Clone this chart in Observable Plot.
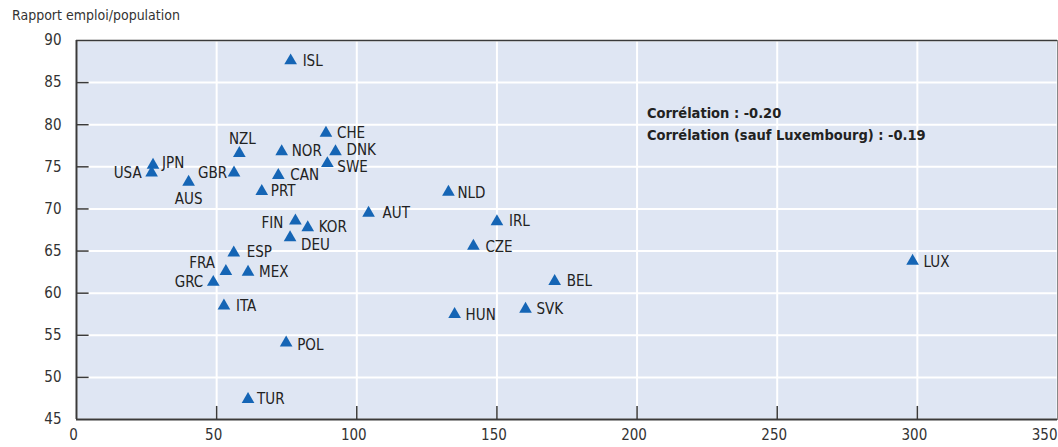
<!DOCTYPE html>
<html><head><meta charset="utf-8">
<script src="https://cdn.jsdelivr.net/npm/d3@7"></script>
<script src="https://cdn.jsdelivr.net/npm/@observablehq/plot@0.6"></script>
<style>
body{margin:0;background:#fff;font-family:"DejaVu Sans Condensed","DejaVu Sans",sans-serif;font-stretch:condensed;}
#title{height:30px;line-height:30px;font-size:14px;color:#333;padding-left:12px;white-space:nowrap;}
</style></head><body>
<div id="title">Rapport emploi/population</div>
<div id="chart"></div>
<script>
const countries = ["ISL","CHE","NZL","NOR","DNK","SWE","JPN","USA","GBR","AUS","CAN","PRT","AUT","FIN","KOR","DEU","ESP","FRA","MEX","GRC","ITA","POL","TUR","NLD","IRL","CZE","BEL","SVK","HUN","LUX"];
const xValues = [76.4,89.0,58.1,73.2,92.4,89.5,27.3,26.8,56.2,40.0,72.0,66.1,104.2,78.1,82.5,76.2,56.1,53.3,61.2,48.8,52.6,74.8,61.2,132.7,150.0,141.6,170.6,160.2,134.9,298.3];
const yValues = [87.6,79.0,76.6,76.8,76.8,75.4,75.2,74.3,74.3,73.2,74.0,72.1,69.5,68.6,67.8,66.6,64.8,62.6,62.5,61.3,58.5,54.1,47.4,72.0,68.5,65.6,61.4,58.1,57.5,63.8];
const xTicks = [0,50,100,150,200,250,300,350];
const yTicks = [45,50,55,60,65,70,75,80,85,90];
const annotationLines = ["Corrélation : -0.20","Corrélation (sauf Luxembourg) : -0.19"];
const annotationAt = {x: 203.5, y: [81.4, 78.7]};

// label placement (layout only)
const placement = {
  NZL:{dx:3,dy:-14,anchor:"middle"}, SWE:{dx:10,dy:4}, JPN:{dx:9,dy:-2}, DNK:{dx:11,dy:-1},
  USA:{dx:-10,dy:0,anchor:"end"}, GBR:{dx:-7,dy:0,anchor:"end"}, AUS:{dx:0,dy:17,anchor:"middle"},
  CAN:{dx:12}, PRT:{dx:9}, AUT:{dx:14}, FIN:{dx:-12,dy:2,anchor:"end"}, DEU:{dx:11,dy:8},
  ESP:{dx:13,dy:-1}, FRA:{dx:-11,dy:-8,anchor:"end"}, GRC:{dx:-10,anchor:"end"}, ITA:{dx:12},
  POL:{dx:11,dy:2}, TUR:{dx:9}, NLD:{dx:9,dy:1}, IRL:{dx:12}, CZE:{dx:12,dy:1}, BEL:{dx:12},
  HUN:{dx:11,dy:1}, LUX:{dx:11,dy:1}, ISL:{dx:12}, NOR:{dx:10}
};
const rows = countries.map((c,i)=>({c, x:xValues[i], y:yValues[i]}));
const groups = {};
for (const r of rows) {
  const p = Object.assign({dx:11,dy:0,anchor:"start"}, placement[r.c]||{});
  const key = `${p.dx}|${p.dy}|${p.anchor}`;
  (groups[key] = groups[key] || {p, data:[]}).data.push(r);
}
const labelMarks = Object.values(groups).map(g => Plot.text(g.data, {
  x:"x", y:"y", text:"c", dx:g.p.dx, dy:g.p.dy, textAnchor:g.p.anchor,
  fill:"#222", fontSize:15
}));

const frameColor = "#3a3a3a";
const plot = Plot.plot({
  width: 1058, height: 417,
  marginLeft: 76, marginRight: 1, marginTop: 10, marginBottom: 28,
  style: {fontFamily:'"DejaVu Sans Condensed","DejaVu Sans",sans-serif', fontSize:"15px", color:"#333", background:"#fff"},
  x: {domain:[0,350], label:null},
  y: {domain:[45,90], label:null},
  marks: [
    Plot.frame({fill:"#dfe6f3", stroke:null}),
    Plot.ruleX(xTicks, {stroke:"#fff", strokeWidth:2}),
    Plot.ruleY(yTicks, {stroke:"#fff", strokeWidth:2}),
    Plot.frame({stroke:"#888", strokeWidth:1}),
    Plot.ruleX(xTicks.filter(t=>t>0 && t<350), {x:d=>d, y1:45, y2:46.55, stroke:frameColor, strokeWidth:1.5}),
    Plot.ruleY(yTicks.filter(t=>t>45 && t<90), {y:d=>d, x1:0, x2:4.5, stroke:frameColor, strokeWidth:1.5}),
    Plot.ruleX([0], {stroke:frameColor, strokeWidth:2}),
    Plot.ruleY([45], {stroke:frameColor, strokeWidth:2}),
    Plot.ruleY([90], {stroke:frameColor, strokeWidth:1.5}),
    Plot.axisX(xTicks.filter(t=>t<350), {tickSize:0, tickPadding:10, dx:-3, fontSize:15, fill:"#333", label:null}),
    Plot.axisX(xTicks.filter(t=>t===350), {tickSize:0, tickPadding:10, textAnchor:"end", fontSize:15, fill:"#333", label:null}),
    Plot.axisY(yTicks, {tickSize:0, tickPadding:15, fontSize:15, fill:"#333", label:null}),
    Plot.dot(rows, {x:"x", y:"y", symbol:"triangle", r:4.7, fill:"#1565b5", stroke:null}),
    ...labelMarks,
    Plot.text(annotationLines, {x:annotationAt.x, y:(d,i)=>annotationAt.y[i], text:d=>d, textAnchor:"start", fontWeight:"bold", fontSize:14.5, fill:"#222"})
  ]
});
document.getElementById("chart").appendChild(plot);
</script>
</body></html>
